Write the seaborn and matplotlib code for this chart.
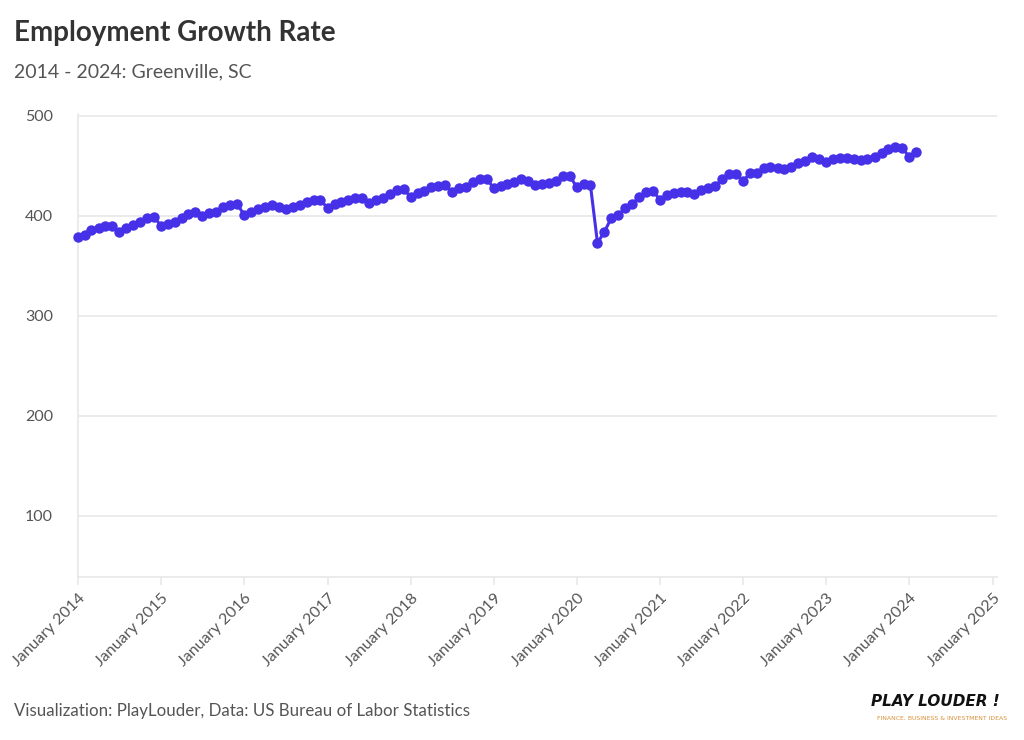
import matplotlib
matplotlib.use("Agg")
import matplotlib.pyplot as plt
import numpy as np
import pandas as pd
import seaborn as sns

# monthly employment (thousands), Greenville SC, Jan 2014 - Feb 2024
vals_2014 = [379, 381, 386, 388, 390, 390, 384, 388, 391, 394, 398, 399]
vals_2015 = [390, 392, 394, 398, 402, 404, 400, 403, 404, 409, 411, 412]
vals_2016 = [401, 404, 407, 409, 411, 409, 407, 409, 411, 414, 416, 416]
vals_2017 = [408, 412, 414, 416, 418, 418, 413, 416, 418, 422, 426, 427]
vals_2018 = [419, 423, 425, 429, 430, 431, 424, 428, 429, 434, 437, 437]
vals_2019 = [428, 430, 432, 434, 437, 435, 431, 432, 433, 435, 440, 440]
vals_2020 = [429, 432, 431, 373, 384, 398, 401, 408, 412, 419, 424, 425]
vals_2021 = [416, 421, 423, 424, 424, 422, 426, 428, 430, 437, 442, 442]
vals_2022 = [435, 443, 443, 448, 449, 448, 447, 449, 453, 455, 459, 457]
vals_2023 = [454, 457, 458, 458, 457, 456, 457, 459, 463, 467, 469, 468]
vals_2024 = [459, 464]

values = (vals_2014 + vals_2015 + vals_2016 + vals_2017 + vals_2018 + vals_2019
          + vals_2020 + vals_2021 + vals_2022 + vals_2023 + vals_2024)
months = pd.date_range("2014-01-01", periods=len(values), freq="MS")
tick_years = list(range(2014, 2026))
y_ticks = [100, 200, 300, 400, 500]

df = pd.DataFrame({"date": months, "employment": values})

sns.set_theme(style="white")
plt.rcParams["font.family"] = ["Lato", "DejaVu Sans"]

line_color = "#4630E8"
text_dark = "#333333"
text_mid = "#555555"
grid_color = "#e8e8e8"

fig = plt.figure(figsize=(10.24, 7.4), dpi=100)
ax = fig.add_axes([0.0762, 0.2203, 0.8974, 0.6257])

sns.lineplot(
    data=df,
    x="date",
    y="employment",
    ax=ax,
    color=line_color,
    linewidth=2.2,
    marker="o",
    markersize=7.5,
    markeredgewidth=0,
)
for ln in ax.lines:
    ln.set_clip_on(False)
    ln.set_zorder(5)

ax.set_xlim(pd.Timestamp("2014-01-01"), pd.Timestamp("2025-01-20"))
ax.set_ylim(39, 502)
ax.set_yticks(y_ticks)
ax.set_yticklabels([str(v) for v in y_ticks])
ax.yaxis.grid(True, color=grid_color, linewidth=1.2)
ax.xaxis.grid(False)

ticks = [pd.Timestamp(f"{y}-01-01") for y in tick_years]
ax.set_xticks(ticks)
ax.set_xticklabels([f"January {y}" for y in tick_years], rotation=45,
                   ha="right", rotation_mode="anchor")

ax.tick_params(axis="x", bottom=True, length=6, width=1.2, color=grid_color,
               labelsize=11.5, labelcolor=text_mid, pad=4)
ax.tick_params(axis="y", left=False, labelsize=11.5, labelcolor=text_mid, pad=12)

for side in ["top", "right"]:
    ax.spines[side].set_visible(False)
for side in ["left", "bottom"]:
    ax.spines[side].set_color(grid_color)
    ax.spines[side].set_linewidth(1.2)

ax.set_xlabel("")
ax.set_ylabel("")

fig.text(0.0137, 0.955, "Employment Growth Rate", fontsize=20, fontweight="bold",
         color=text_dark, va="center", ha="left")
fig.text(0.0137, 0.903, "2014 - 2024: Greenville, SC", fontsize=14,
         color=text_mid, va="center", ha="left")
fig.text(0.0137, 0.039, "Visualization: PlayLouder, Data: US Bureau of Labor Statistics",
         fontsize=12.2, color=text_mid, va="center", ha="left")

fig.text(0.913, 0.052, "PLAY LOUDER !", fontsize=11, fontweight="heavy",
         style="italic", color="#111111", va="center", ha="center",
         family=["Liberation Sans Narrow", "DejaVu Sans"])
fig.text(0.920, 0.029, "FINANCE, BUSINESS & INVESTMENT IDEAS", fontsize=4.4,
         color="#D9913A", va="center", ha="center",
         family=["Liberation Sans Narrow", "DejaVu Sans"])

fig.savefig("out.png", dpi=100)
plt.close(fig)
